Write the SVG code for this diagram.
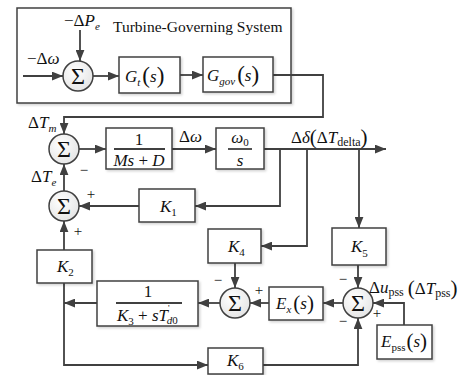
<svg xmlns="http://www.w3.org/2000/svg" width="468" height="375" viewBox="0 0 468 375" font-family="'Liberation Serif', 'DejaVu Serif', serif">
<style>
.box{fill:#fff;stroke:#404040;stroke-width:1.5;filter:url(#sh)}
.ln{fill:none;stroke:#404040;stroke-width:1.8}
.arr{marker-end:url(#ah)}
.sum{fill:url(#sg);stroke:#404040;stroke-width:1.5}
.t{font-family:'Liberation Serif','DejaVu Serif',serif;fill:#111}
.m{font-family:'Liberation Serif','DejaVu Serif',serif;font-style:italic;fill:#111;font-size:17px}
.n{font-style:normal}
.sig{font-family:'Liberation Serif','DejaVu Serif',serif;font-size:24px;fill:#111;text-anchor:middle}
.pm{font-family:'Liberation Serif','DejaVu Serif',serif;font-size:15px;fill:#111;text-anchor:middle}
</style>
<defs>
<marker id="ah" viewBox="0 0 10 8" refX="10" refY="4" markerWidth="11" markerHeight="9" markerUnits="userSpaceOnUse" orient="auto">
<path d="M0,0 L10,4 L0,8 Z" fill="#404040"/>
</marker>
<radialGradient id="sg" cx="0.4" cy="0.35" r="0.7">
<stop offset="0" stop-color="#ffffff"/>
<stop offset="1" stop-color="#e4e4e4"/>
</radialGradient>
<filter id="sh" x="-10%" y="-10%" width="130%" height="130%">
<feDropShadow dx="1.5" dy="1.5" stdDeviation="1" flood-color="#000" flood-opacity="0.18"/>
</filter>
</defs>

<g id="turbine-system">
<rect class="box" x="17" y="8" width="274" height="95"/>
<text class="t" x="113" y="32" font-size="15.5">Turbine-Governing System</text>
</g>

<g id="connectors">
<path class="ln arr" d="M80,30 V61"/>
<path class="ln arr" d="M23,76 H63"/>
<path class="ln arr" d="M93,76 H119"/>
<path class="ln arr" d="M180,75 H203"/>
<path class="ln arr" d="M273,75 H323 V117 H64 V134"/>
<path class="ln arr" d="M79,149 H106"/>
<path class="ln arr" d="M172,149 H216"/>
<path class="ln arr" d="M264,149 H386"/>
<path class="ln arr" d="M280,149 V206 H195"/>
<path class="ln arr" d="M139,206 H79"/>
<path class="ln arr" d="M64,191 V164"/>
<path class="ln arr" d="M64,250 V221"/>
<path class="ln arr" d="M307,149 V246 H261"/>
<path class="ln arr" d="M359,149 V228"/>
<path class="ln arr" d="M358,265 V288"/>
<path class="ln arr" d="M235,263 V288"/>
<path class="ln arr" d="M269,303 H250"/>
<path class="ln arr" d="M343,303 H323"/>
<path class="ln arr" d="M404,325 V303 H373"/>
<path class="ln arr" d="M220,303 H198"/>
<path class="ln arr" d="M97,303 H64"/>
<path class="ln arr" d="M64,283 V365 H208"/>
<path class="ln arr" d="M263,365 H358 V318"/>
</g>

<g id="sum1">
<circle class="sum" cx="78" cy="76" r="15"/>
<text class="sig" x="78" y="84">Σ</text>
<text class="m" x="64" y="26"><tspan class="n">−Δ</tspan>P<tspan font-size="11" dy="4">e</tspan></text>
<text class="m" x="27" y="64"><tspan class="n">−Δ</tspan>ω</text>
</g>

<g id="Gt">
<rect class="box" x="119" y="57" width="61" height="36"/>
<text class="m" x="125" y="82" font-size="19">G<tspan font-size="11" dy="4">t</tspan><tspan class="n" font-size="23" dy="-3" dx="2">(</tspan><tspan dy="-1">s</tspan><tspan class="n" font-size="23" dy="1">)</tspan></text>
</g>

<g id="Ggov">
<rect class="box" x="203" y="57" width="70" height="35"/>
<text class="m" x="207" y="81" font-size="19">G<tspan font-size="11" dy="4">gov</tspan><tspan class="n" font-size="23" dy="-3" dx="2">(</tspan><tspan dy="-1">s</tspan><tspan class="n" font-size="23" dy="1">)</tspan></text>
</g>

<g id="sum2">
<circle class="sum" cx="64" cy="149" r="15"/>
<text class="sig" x="64" y="157">Σ</text>
<text class="m" x="28" y="128"><tspan class="n">Δ</tspan>T<tspan font-size="11" dy="4">m</tspan></text>
<text class="m" x="31" y="182"><tspan class="n">Δ</tspan>T<tspan font-size="11" dy="4">e</tspan></text>
<text class="pm" x="84" y="175">−</text>
</g>

<g id="inertia">
<rect class="box" x="106" y="128" width="66" height="41"/>
<text class="t" x="139" y="145" font-size="17" text-anchor="middle">1</text>
<line class="ln" x1="114" y1="149" x2="165" y2="149" stroke-width="1.2"/>
<text class="m" x="139" y="166" text-anchor="middle">Ms<tspan class="n"> + </tspan>D</text>
<text class="m" x="179" y="142"><tspan class="n">Δ</tspan>ω</text>
</g>

<g id="integrator">
<rect class="box" x="216" y="128" width="48" height="41"/>
<text class="m" x="240" y="143" text-anchor="middle">ω<tspan class="n" font-size="11" dy="3">0</tspan></text>
<line class="ln" x1="228" y1="149" x2="252" y2="149" stroke-width="1.2"/>
<text class="m" x="240" y="166" text-anchor="middle">s</text>
<text class="m" x="291" y="143" font-size="18"><tspan class="n">Δ</tspan>δ<tspan class="n" font-size="21" dy="1">(</tspan><tspan class="n" dy="-1">Δ</tspan>T<tspan class="n" font-size="12" dy="3">delta</tspan><tspan class="n" font-size="21" dy="-2">)</tspan></text>
</g>

<g id="sum3">
<circle class="sum" cx="64" cy="206" r="15"/>
<text class="sig" x="64" y="214">Σ</text>
<text class="pm" x="91" y="199">+</text>
<text class="pm" x="78" y="236">+</text>
</g>

<g id="K1">
<rect class="box" x="139" y="189" width="56" height="33"/>
<text class="m" x="160" y="212" font-size="18">K<tspan class="n" font-size="11" dy="4">1</tspan></text>
</g>

<g id="K2">
<rect class="box" x="37" y="250" width="55" height="33"/>
<text class="m" x="57" y="272" font-size="18">K<tspan class="n" font-size="11" dy="4">2</tspan></text>
</g>

<g id="K4">
<rect class="box" x="208" y="229" width="53" height="34"/>
<text class="m" x="228" y="252" font-size="18">K<tspan class="n" font-size="11" dy="4">4</tspan></text>
</g>

<g id="K5">
<rect class="box" x="332" y="228" width="54" height="37"/>
<text class="m" x="351" y="252" font-size="18">K<tspan class="n" font-size="11" dy="5">5</tspan></text>
</g>

<g id="field">
<rect class="box" x="97" y="281" width="101" height="45"/>
<text class="t" x="148" y="297" font-size="17" text-anchor="middle">1</text>
<line class="ln" x1="116" y1="303" x2="182" y2="303" stroke-width="1.2"/>
<text class="m" x="117" y="321">K<tspan class="n" font-size="11" dy="4">3</tspan><tspan class="n" dy="-4"> + </tspan>sT<tspan class="n" font-size="9" dy="-10">'</tspan><tspan font-size="11" dy="13" dx="-3">d</tspan><tspan class="n" font-size="11">0</tspan></text>
</g>

<g id="sum4">
<circle class="sum" cx="235" cy="303" r="15"/>
<text class="sig" x="235" y="311">Σ</text>
<text class="pm" x="218" y="285">−</text>
<text class="pm" x="259" y="295">+</text>
</g>

<g id="Ex">
<rect class="box" x="269" y="287" width="54" height="33"/>
<text class="m" x="276" y="309" font-size="18">E<tspan font-size="11" dy="4">x</tspan><tspan class="n" font-size="21" dy="-3" dx="2">(</tspan><tspan dy="-1">s</tspan><tspan class="n" font-size="21" dy="1">)</tspan></text>
</g>

<g id="sum5">
<circle class="sum" cx="358" cy="303" r="15"/>
<text class="sig" x="358" y="311">Σ</text>
<text class="pm" x="343" y="284">−</text>
<text class="pm" x="377" y="318">+</text>
<text class="pm" x="343" y="326">−</text>
<text class="m" x="369" y="293" font-size="18"><tspan class="n">Δ</tspan>u<tspan class="n" font-size="12" dy="3">pss</tspan><tspan class="n" font-size="21" dy="-1" dx="4">(</tspan><tspan class="n" dy="-1">Δ</tspan>T<tspan class="n" font-size="12" dy="3">pss</tspan><tspan class="n" font-size="21" dy="-2">)</tspan></text>
</g>

<g id="Epss">
<rect class="box" x="377" y="325" width="55" height="34"/>
<text class="m" x="381" y="347" font-size="18">E<tspan class="n" font-size="11" dy="4">pss</tspan><tspan class="n" font-size="21" dy="-3" dx="1">(</tspan><tspan dy="-1">s</tspan><tspan class="n" font-size="21" dy="1">)</tspan></text>
</g>

<g id="K6">
<rect class="box" x="208" y="348" width="55" height="26"/>
<text class="m" x="227" y="366" font-size="18">K<tspan class="n" font-size="11" dy="4">6</tspan></text>
</g>
</svg>
